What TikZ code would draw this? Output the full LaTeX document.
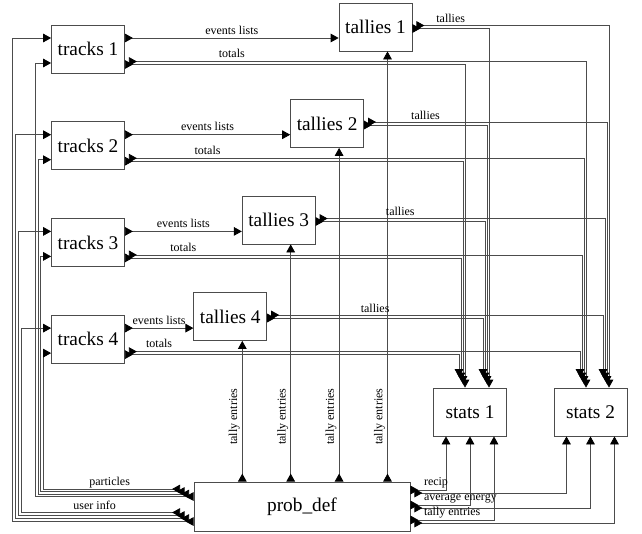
\documentclass[tikz,border=0pt]{standalone}
\usepackage{fontspec}
\setmainfont{Liberation Serif}
\usetikzlibrary{arrows.meta,calc}
\tikzset{>={Triangle[length=6pt,width=6.5pt,color=black]},
  box/.style={draw=black!70,line width=.6pt,minimum width=54.75pt,minimum height=36pt,inner sep=0pt,font=\fontsize{14.5}{15}\selectfont},
  wire/.style={black!70,line width=.6pt,>->},lbl/.style={text=black,font=\fontsize{9}{10}\selectfont,inner sep=1pt}}
\begin{document}
\begin{tikzpicture}[x=.75pt,y=-.75pt]
\useasboundingbox (0,0) rectangle (642,533);
\foreach \i in {1,...,4}{\node[box] (trk\i) at (88,{49+96.7*(\i-1)}) {tracks \i};
 \node[box] (tal\i) at ({375.5-48.4*(\i-1)},{27+96.5*(\i-1)}) {tallies \i};}
\node[box] (st1) at (470,412) {stats 1};\node[box] (st2) at (590.5,412) {stats 2};
\node[box,minimum width=162pt,minimum height=36.75pt] (prob) at (302,506.5) {prob\_def};
\foreach \i in {1,...,4}{
 \coordinate (e\i) at ($(trk\i.east)+(0,-11)$);\coordinate (t\i) at ($(trk\i.east)+(0,14)$);\coordinate (u\i) at ($(tal\i.south)+(12,0)$);
 \draw[wire] (e\i) -- (e\i -| tal\i.west) node[lbl,midway,above=1.5pt]{events lists} coordinate[midway] (m\i);
 \draw[wire] ($(t\i)+(0,1.5)$) -| ($(st1.north)+({-3-2*\i},{-3.5*(\i-1)})$);
 \draw[wire] ($(t\i)+(4,-1.5)$) -| ($(st2.north)+({-2.5-2*\i},{-3.5*(\i-1)})$);
 \node[lbl,above=1.5pt] at ($(m\i |- t\i)+(0,-1.5)$) {totals};
 \draw[wire] ($(tal\i.east)+(0,1.5)$) -| ($(st1.north)+({21-2*\i},{-3.5*(\i-1)})$) node[lbl,pos=.25,above=3pt]{tallies};
 \draw[wire] ($(tal\i.east)+(4,-1.5)$) -| ($(st2.north)+({20.5-2*\i},{-3.5*(\i-1)})$);
 \draw[wire] (u\i |- prob.north) -- (u\i);
 \node[lbl,rotate=90,anchor=south] at ($(u\i |- prob.north)+(-1,-65)$) {tally entries};
 \draw[wire] ($(prob.west)+({-4.5*(\i-1)},{-7.5-2.5*\i})$) -| ($(trk\i.west)+({2.5*\i-18},14)$) -- ($(trk\i.west)+(0,14)$);
 \draw[wire] ($(prob.west)+({-4.5*(\i-1)},{18-3*\i})$) -| ($(trk\i.west)+({3*\i-42},-11)$) -- ($(trk\i.west)+(0,-11)$);}
\foreach \d/\t in {-15/recip,0/average energy,15/tally entries}{
 \draw[wire] ($(prob.east)+(0,{\d-1.5})$) -| ($(st1.south)+({1.6*\d},0)$);
 \draw[wire] ($(prob.east)+(4,{\d+1.5})$) -| ($(st2.south)+({1.6*\d},0)$);
 \node[lbl,anchor=south west] at ($(prob.east)+(12,{\d-2})$) {\t};}
\node[lbl,anchor=south] at ($(prob.west)+(-84,-17)$) {particles};
\node[lbl,anchor=south] at ($(prob.west)+(-99,5)$) {user info};
\end{tikzpicture}
\end{document}
